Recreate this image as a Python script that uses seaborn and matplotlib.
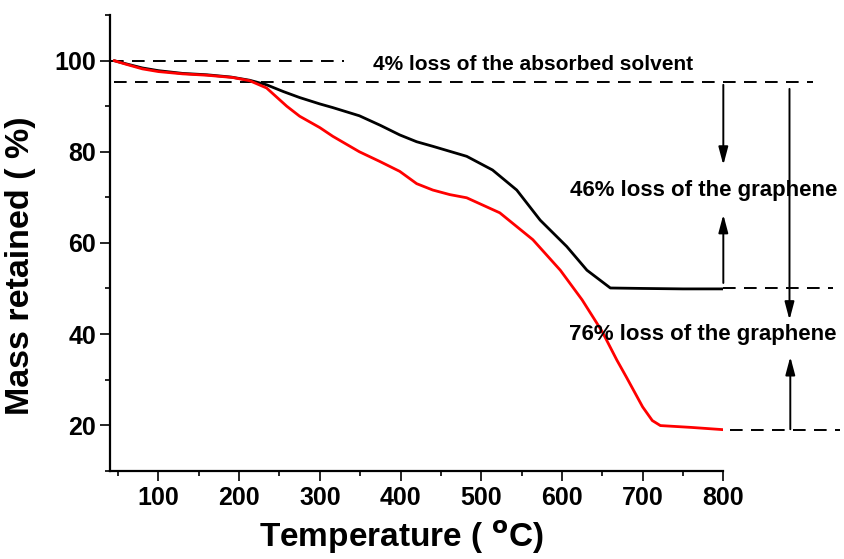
import pandas as pd
import seaborn as sns
import numpy as np
import matplotlib.pyplot as plt
from matplotlib.ticker import MultipleLocator

# TGA curves
temp_black = [45, 60, 80, 100, 130, 160, 190, 213, 234, 255, 275, 300, 316, 349, 375, 399,
              420, 440, 482, 514, 544, 573, 606, 631, 660, 700, 750, 800]
mass_black = [100, 99.3, 98.4, 97.8, 97.2, 96.9, 96.4, 95.7, 94.7, 93.2, 91.9, 90.5, 89.7, 87.9, 85.8, 83.7,
              82.2, 81.2, 79.0, 76.0, 71.6, 65.0, 59.2, 54.0, 50.1, 50.0, 49.9, 49.9]

temp_red = [45, 60, 80, 100, 130, 160, 192, 213, 234, 259, 275, 300, 316, 349, 374, 399,
            420, 440, 461, 482, 523, 564, 598, 625, 650, 668, 680, 700, 712, 722, 760, 800]
mass_red = [100, 99.2, 98.2, 97.6, 97.1, 96.8, 96.3, 95.6, 94.0, 90.0, 87.8, 85.3, 83.4, 80.0, 77.9, 75.7,
            73.0, 71.6, 70.6, 69.9, 66.6, 60.7, 54.0, 47.5, 40.5, 34.3, 30.5, 24.0, 21.0, 19.9, 19.5, 19.0]

x_ticks = [100, 200, 300, 400, 500, 600, 700, 800]
y_ticks = [20, 40, 60, 80, 100]

sns.set_style("ticks")
plt.rcParams['font.family'] = ['Liberation Sans', 'DejaVu Sans']
plt.rcParams['font.weight'] = 'bold'
plt.rcParams['axes.labelweight'] = 'bold'
for k in ['text.color', 'axes.labelcolor', 'xtick.color', 'ytick.color', 'axes.edgecolor']:
    plt.rcParams[k] = 'black'

fig = plt.figure(figsize=(8.45, 5.59), dpi=100)
ax = fig.add_axes([0.1302, 0.158, 0.7258, 0.815])

df_black = pd.DataFrame({"T": temp_black, "m": mass_black})
df_red = pd.DataFrame({"T": temp_red, "m": mass_red})
sns.lineplot(data=df_black, x="T", y="m", color="black", lw=2, ax=ax, zorder=3)
sns.lineplot(data=df_red, x="T", y="m", color="red", lw=2, ax=ax, zorder=4)

ax.set_xlim(40, 800)
ax.set_ylim(10, 110)
ax.set_xticks(x_ticks)
ax.set_yticks(y_ticks)
ax.xaxis.set_minor_locator(MultipleLocator(50))
ax.yaxis.set_minor_locator(MultipleLocator(10))
ax.tick_params(which='major', length=7, width=1.2, labelsize=18, pad=3)
ax.tick_params(axis='x', which='major', pad=4)
ax.tick_params(which='minor', length=3.5, width=1.2)
for lab in ax.get_xticklabels() + ax.get_yticklabels():
    lab.set_fontweight('bold')
for s in ['top', 'right']:
    ax.spines[s].set_visible(False)
for s in ['left', 'bottom']:
    ax.spines[s].set_linewidth(1.6)

ax.set_xlabel("Temperature ( $^{\\mathbf{o}}$C)", fontsize=24, fontweight='bold')
ax.set_ylabel("Mass retained ( %)", fontsize=24.5, fontweight='bold')
ax.xaxis.set_label_coords(0.475, -0.105)
ax.yaxis.set_label_coords(-0.12, 0.45)

# dashed guide lines
dash = dict(color='black', lw=1.4, ls=(0, (6.5, 4.3)), clip_on=False)
ax.plot([41, 330], [100, 100], **dash)
ax.plot([45, 911], [95.4, 95.4], **dash)
ax.plot([800, 936], [50, 50], **dash)
ax.plot([808, 945], [19, 19], **dash)

# arrows
arr = dict(arrowstyle='-|>,head_length=0.9,head_width=0.24', color='black', lw=1.4,
           shrinkA=0, shrinkB=0, mutation_scale=12)
ax.annotate("", xy=(800, 77.1), xytext=(800, 94.7), arrowprops=arr, annotation_clip=False)
ax.annotate("", xy=(800, 66.2), xytext=(800, 51.2), arrowprops=arr, annotation_clip=False)
ax.annotate("", xy=(882, 43.1), xytext=(882, 93.8), arrowprops=arr, annotation_clip=False)
ax.annotate("", xy=(883, 35.0), xytext=(883, 19.1), arrowprops=arr, annotation_clip=False)

ax.text(564, 99.1, "4% loss of the absorbed solvent", fontsize=15, fontweight='bold',
        ha='center', va='center', clip_on=False)
ax.text(776, 71.6, "46% loss of the graphene", fontsize=16, fontweight='bold',
        ha='center', va='center', clip_on=False, zorder=5)
ax.text(774, 39.8, "76% loss of the graphene", fontsize=16, fontweight='bold',
        ha='center', va='center', clip_on=False, zorder=5)

fig.savefig("out.png", dpi=100)
